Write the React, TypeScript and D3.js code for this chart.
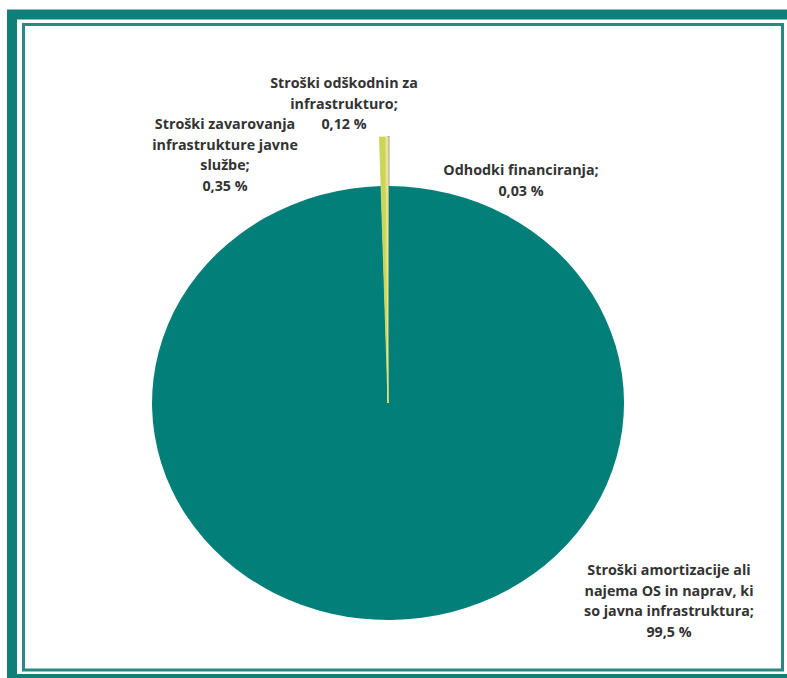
import React from "react";
import * as d3 from "d3";

const categories = [
  "Odhodki financiranja",
  "Stroški amortizacije ali najema OS in naprav, ki so javna infrastruktura",
  "Stroški zavarovanja infrastrukture javne službe",
  "Stroški odškodnin za infrastrukturo",
];
const values = [0.03, 99.5, 0.35, 0.12];
const valueLabels = ["0,03 %", "99,5 %", "0,35 %", "0,12 %"];
const colors = ["#a9adaf", "#037f7a", "#c9d65a", "#ece48e"];

const labelLines: string[][] = [
  ["Odhodki financiranja;", "0,03 %"],
  ["Stroški amortizacije ali", "najema OS in naprav, ki", "so javna infrastruktura;", "99,5 %"],
  ["Stroški zavarovanja", "infrastrukture javne", "službe;", "0,35 %"],
  ["Stroški odškodnin za", "infrastrukturo;", "0,12 %"],
];
const labelPos: [number, number][] = [
  [521, 175],
  [669, 575],
  [225, 129],
  [344, 88],
];

export default function App() {
  const W = 787;
  const H = 678;
  const cx = 388;
  const cy = 403;
  const ry = 217;
  const rx = 236;
  const pie = d3
    .pie<number>()
    .sort(null)
    .value((d) => d)
    .startAngle(0)
    .endAngle(2 * Math.PI);
  const arcs = pie(values);
  const big = d3.arc<d3.PieArcDatum<number>>().innerRadius(0).outerRadius(ry);
  const small = d3.arc<d3.PieArcDatum<number>>().innerRadius(0).outerRadius(266);

  return (
    <svg
      width={W}
      height={H}
      style={{ position: "absolute", left: 0, top: 0, background: "#fff" }}
    >
      <rect x={0} y={0} width={W} height={H} fill="#fff" />
      {/* outer frame */}
      <rect x={12} y={14.5} width={W} height={664.5} fill="none" stroke="#0f7f7a" strokeWidth={10} />
      {/* inner frame */}
      <rect x={23.5} y={24.5} width={759} height={645.5} fill="none" stroke="#2a8883" strokeWidth={3} />
      <g transform={`translate(${cx},${cy}) scale(${rx / ry},1)`}>
        {arcs.map((a, i) => (
          <path
            key={i}
            d={(values[i] > 1 ? big(a) : small(a)) || ""}
            fill={colors[i]}
            stroke={values[i] > 1 ? "none" : colors[i]}
            strokeWidth={values[i] > 1 ? 0 : values[i] < 0.1 ? 2 : 0.8}
          />
        ))}
      </g>
      <g
        fontFamily="'Open Sans', 'Noto Sans', sans-serif"
        fontWeight={700}
        fontSize={14.3}
        fill="#333"
        textAnchor="middle"
      >
        {labelLines.map((lines, i) => (
          <text key={i} x={labelPos[i][0]} y={labelPos[i][1]}>
            {lines.map((l, j) => (
              <tspan key={j} x={labelPos[i][0]} dy={j === 0 ? 0 : 20.5}>
                {l}
              </tspan>
            ))}
          </text>
        ))}
      </g>
    </svg>
  );
}
